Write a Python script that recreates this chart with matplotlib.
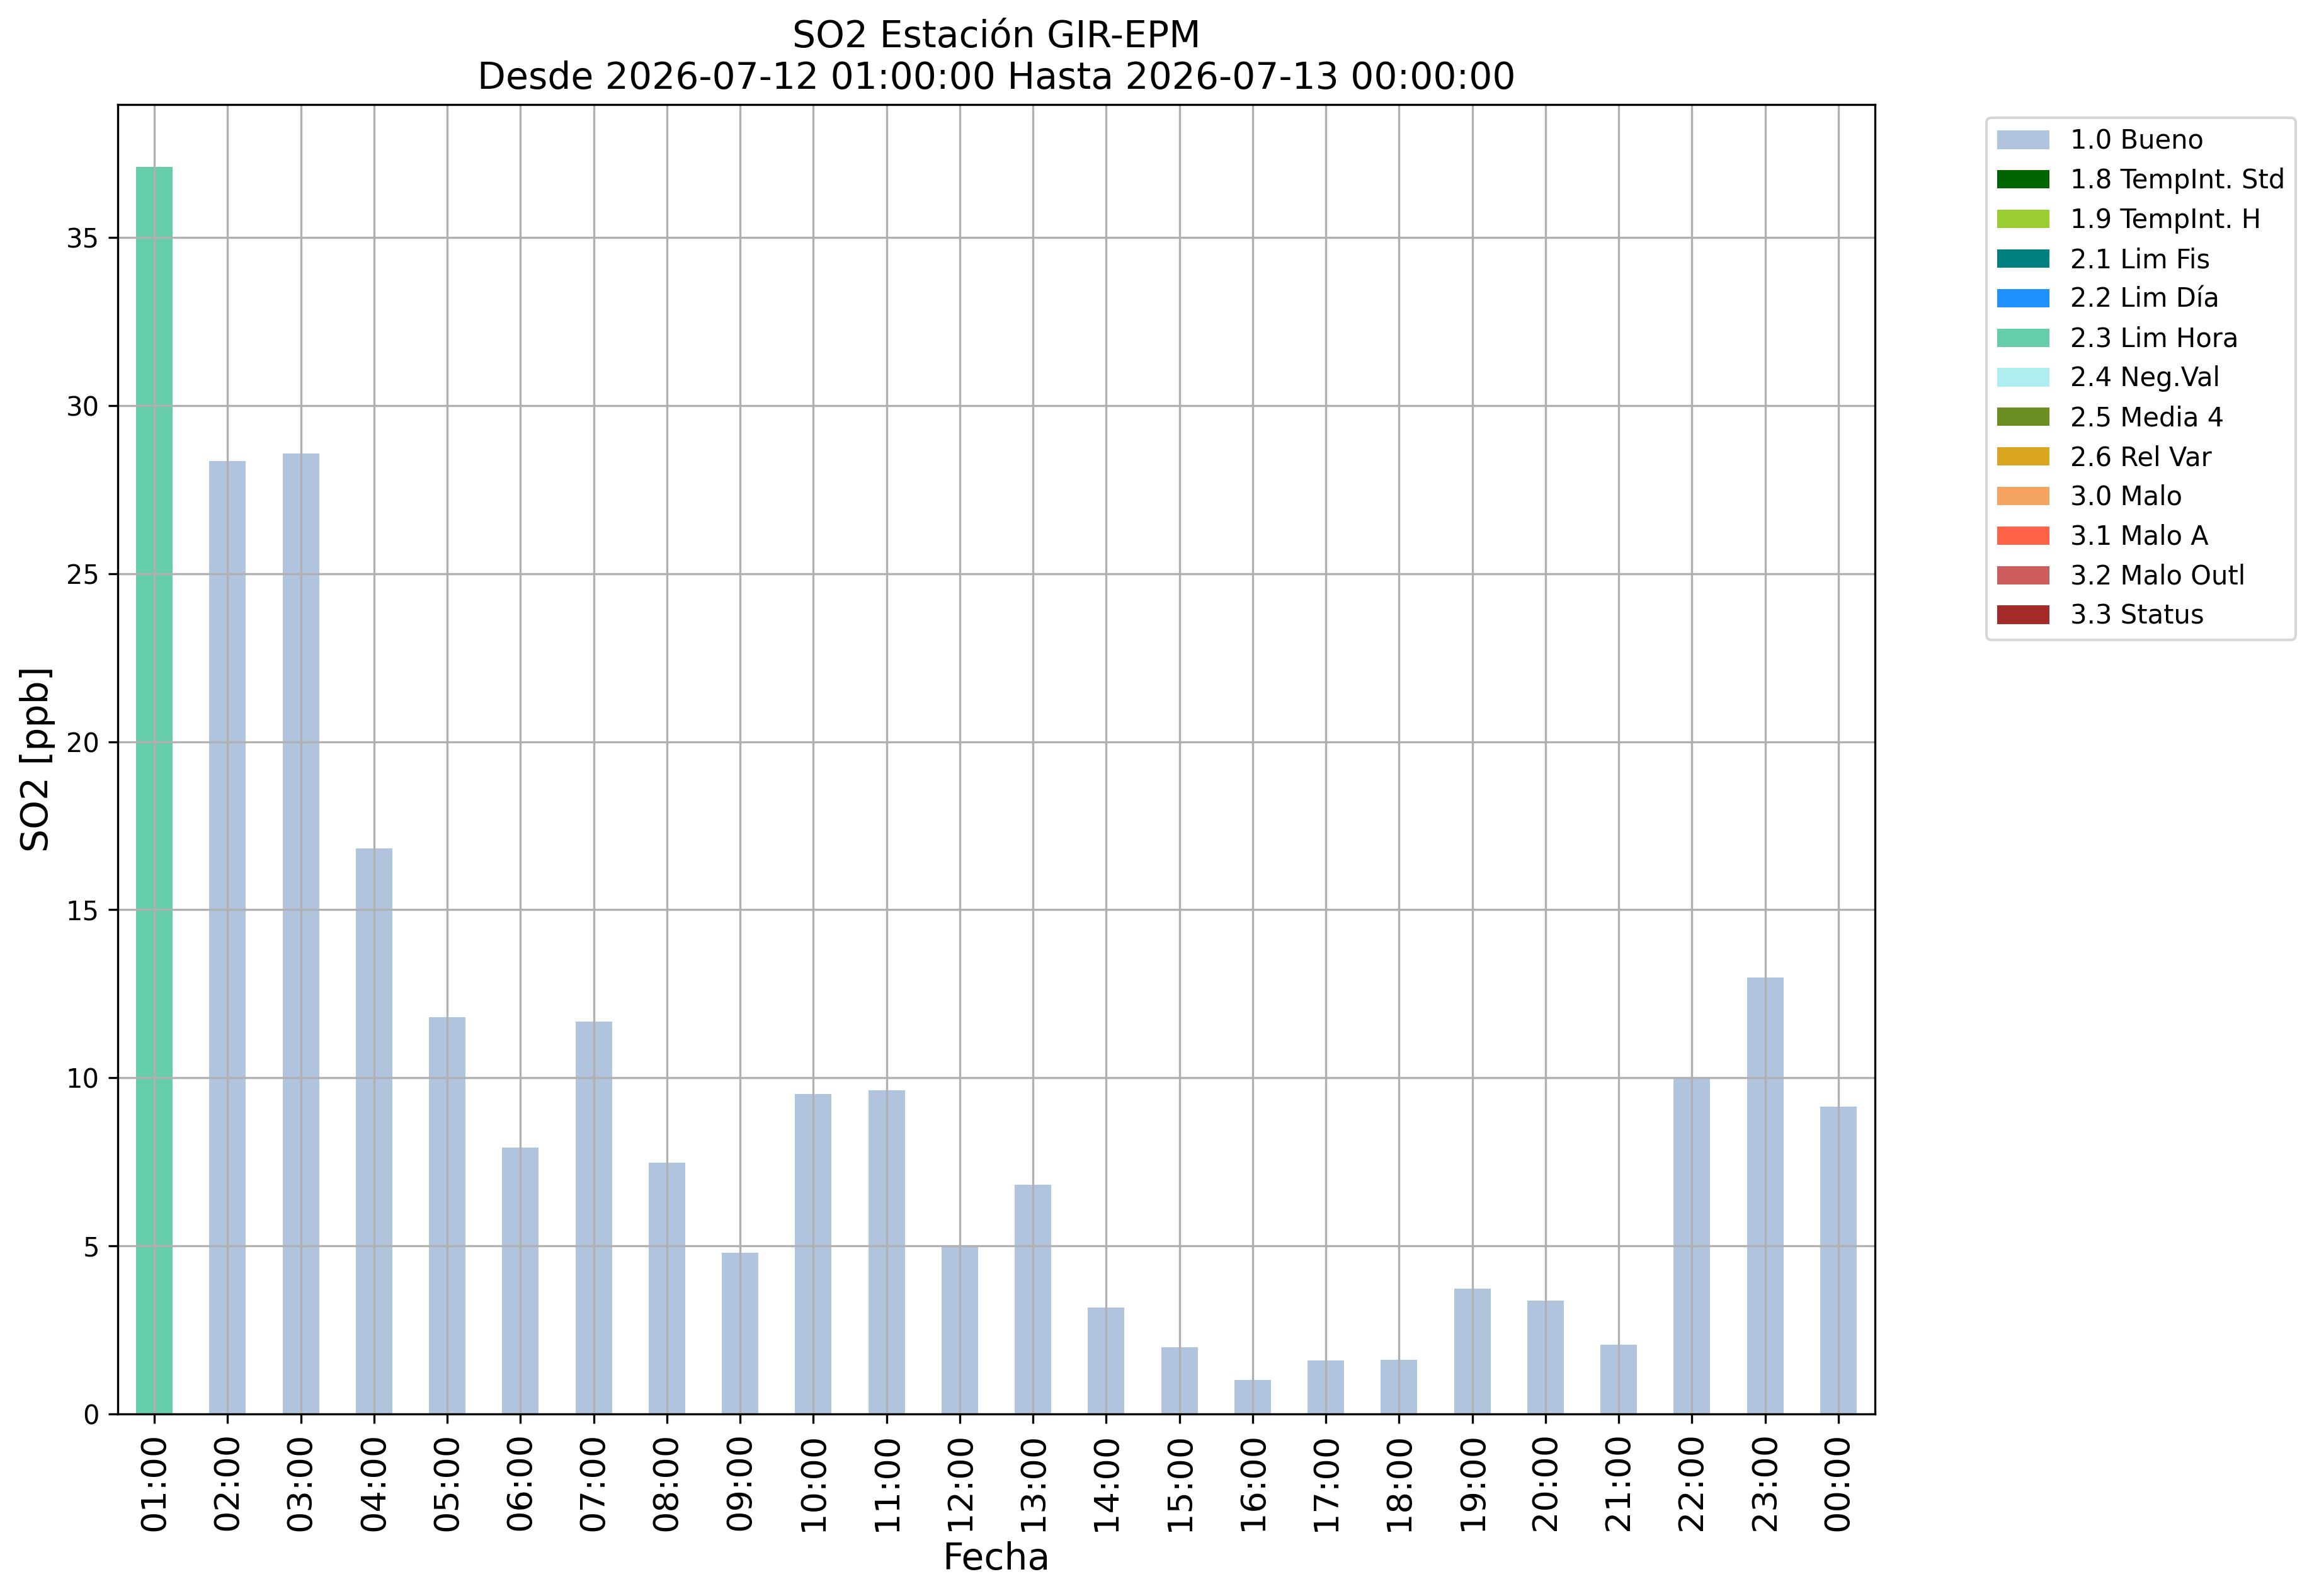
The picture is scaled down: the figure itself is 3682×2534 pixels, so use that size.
import matplotlib
matplotlib.use("Agg")
import matplotlib.pyplot as plt
import numpy as np

hours = ["01:00", "02:00", "03:00", "04:00", "05:00", "06:00", "07:00", "08:00",
         "09:00", "10:00", "11:00", "12:00", "13:00", "14:00", "15:00", "16:00",
         "17:00", "18:00", "19:00", "20:00", "21:00", "22:00", "23:00", "00:00"]
so2 = [37.1, 28.35, 28.57, 16.82, 11.8, 7.93, 11.67, 7.48,
       4.8, 9.51, 9.64, 5.0, 6.82, 3.16, 1.98, 1.01,
       1.59, 1.62, 3.73, 3.38, 2.06, 10.0, 12.98, 9.14]
flags = ["2.3 Lim Hora"] + ["1.0 Bueno"] * 23

categories = ["1.0 Bueno", "1.8 TempInt. Std", "1.9 TempInt. H", "2.1 Lim Fis",
              "2.2 Lim Día", "2.3 Lim Hora", "2.4 Neg.Val", "2.5 Media 4",
              "2.6 Rel Var", "3.0 Malo", "3.1 Malo A", "3.2 Malo Outl", "3.3 Status"]
colors = ["lightsteelblue", "darkgreen", "yellowgreen", "teal", "dodgerblue",
          "mediumaquamarine", "paleturquoise", "olivedrab", "goldenrod",
          "sandybrown", "tomato", "indianred", "brown"]

W, H, DPI = 3682, 2534, 300
fig = plt.figure(figsize=(W / DPI, H / DPI), dpi=DPI)
ax = fig.add_axes([187 / W, 1 - 2245 / H, (2977 - 187) / W, (2245 - 166) / H])

x = np.arange(len(hours))
bottom = np.zeros(len(hours))
for cat, col in zip(categories, colors):
    vals = np.array([v if f == cat else 0.0 for v, f in zip(so2, flags)])
    ax.bar(x, vals, width=0.5, bottom=bottom, color=col, label=cat)
    bottom += vals

ax.set_xlim(-0.5, len(hours) - 0.5)
ax.set_ylim(0, max(so2) * 1.05)
ax.set_xticks(x)
ax.set_xticklabels(hours, rotation=90, fontsize=13)
ax.tick_params(axis="y", labelsize=10)
ax.grid(True)
ax.set_xlabel("Fecha", fontsize=14)
ax.set_ylabel("SO2 [ppb]", fontsize=14)
ax.set_title("SO2 Estación GIR-EPM\nDesde 2026-07-12 01:00:00 Hasta 2026-07-13 00:00:00",
             fontsize=14)
ax.legend(bbox_to_anchor=(1.056, 1), loc="upper left", fontsize=10)

fig.savefig("out.png", dpi=DPI)
